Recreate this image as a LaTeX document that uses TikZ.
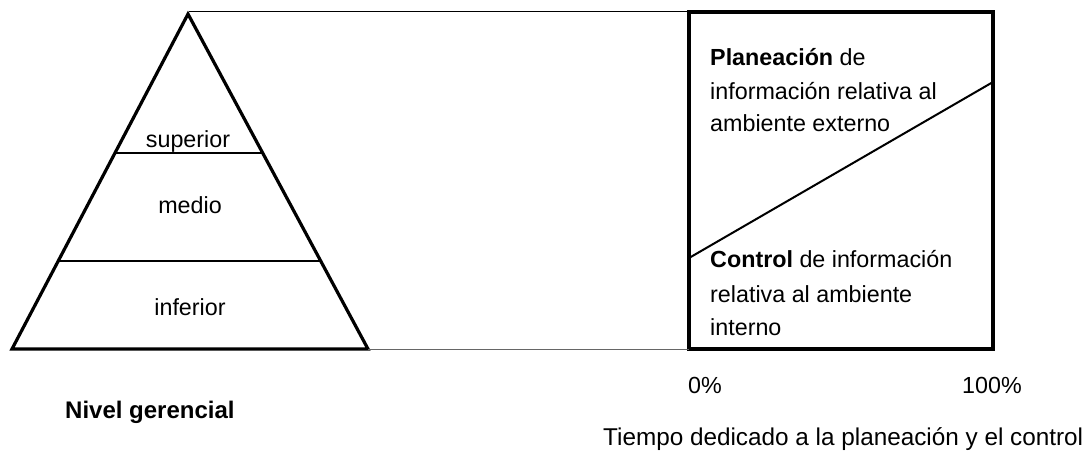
\documentclass[tikz,border=0pt]{standalone}
\usepackage{fontspec}
\setmainfont{Liberation Sans}
\usetikzlibrary{calc}
\begin{document}
\begin{tikzpicture}[x=1pt,y=1pt,
  thickline/.style={line width=3.2pt,line join=miter},
  bandline/.style={line width=2.6pt},
  guide/.style={line width=1pt},
  label/.style={inner sep=0pt,font=\fontsize{23.3}{33}\selectfont},
  boxtext/.style={label,anchor=base west},
  midtext/.style={label,anchor=base}]
\useasboundingbox (0,0) rectangle (1089,-450);

% pyramid of management levels
\coordinate (apex) at (188,-14);
\coordinate (bl) at (12,-349);
\coordinate (br) at (368,-349);
\draw[thickline] (bl) -- (apex) -- (br) -- cycle;
\coordinate (s1) at ($(apex)!0.415!(bl)$);
\coordinate (s2) at ($(apex)!0.415!(br)$);
\coordinate (i1) at ($(apex)!0.737!(bl)$);
\coordinate (i2) at ($(apex)!0.737!(br)$);
\draw[bandline] (s1) -- (s2);
\draw[bandline] (i1) -- (i2);
\node[midtext] (sup) at (188,-147) {superior};
\node[midtext] (med) at (190,-213) {medio};
\node[midtext] (inf) at (190,-315) {inferior};

% time split box
\coordinate (tl) at (689,-12);
\coordinate (tr) at (993,-12);
\coordinate (bbl) at (689,-349);
\coordinate (bbr) at (993,-349);
\draw[thickline] (tl) rectangle (bbr);
\coordinate (d1) at (689,-258);
\coordinate (d2) at (993,-82);
\draw[line width=2pt] (d1) -- (d2);

% guide lines joining pyramid and box
\coordinate (apexline) at (189,-11);
\coordinate (boxline) at (689,-11);
\draw[guide] (apexline) -- (boxline);
\draw[guide,black!60] (br) -- (bbl);

% texts inside the box
\node[boxtext] (p1) at (710,-65) {\textbf{Planeación} de};
\node[boxtext] (p2) at (710,-99) {información relativa al};
\node[boxtext] (p3) at (710,-131) {ambiente externo};
\node[boxtext] (c1) at (710,-267) {\textbf{Control} de información};
\node[boxtext] (c2) at (710,-302) {relativa al ambiente};
\node[boxtext] (c3) at (710,-335) {interno};

% axis and caption texts
\node[midtext] (zero) at (705,-393) {0\%};
\node[midtext] (hundred) at (992,-393) {100\%};
\node[boxtext,font=\fontsize{24}{28}\selectfont] (nivel) at (65,-418) {\textbf{Nivel gerencial}};
\node[boxtext,font=\fontsize{24.3}{28}\selectfont] (tiempo) at (603,-445) {Tiempo dedicado a la planeación y el control};
\end{tikzpicture}
\end{document}
